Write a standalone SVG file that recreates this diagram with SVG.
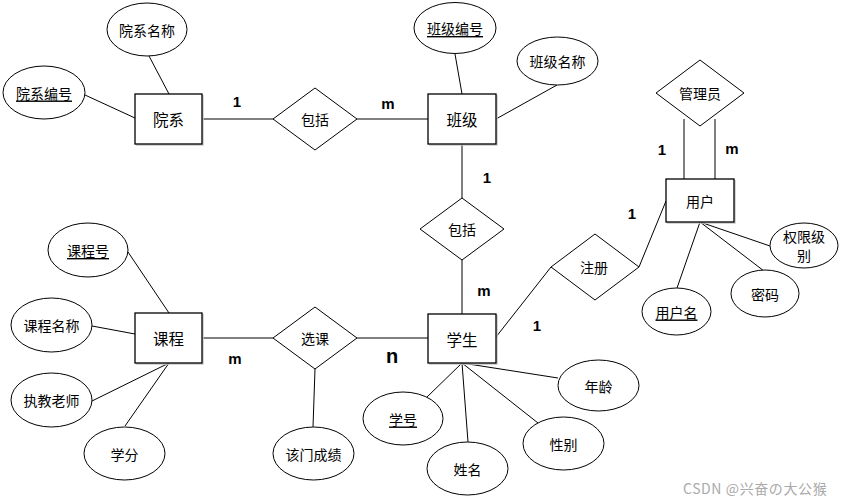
<svg xmlns="http://www.w3.org/2000/svg" width="845" height="504" viewBox="0 0 845 504">
<style>
.ent{fill:#fff;stroke:#000;stroke-width:1.3}
.sh{fill:none;stroke:#c8c8c8;stroke-width:1.5}
.rel{fill:#fff;stroke:#000;stroke-width:1}
.att{fill:#fff;stroke:#000;stroke-width:1}
.ln{stroke:#000;stroke-width:1;fill:none}
text{font-family:"Noto Sans CJK SC","Liberation Sans",sans-serif;font-size:14px;fill:#000;text-anchor:middle;dominant-baseline:central}
.big{font-size:15.5px}
.u{text-decoration:underline}
.card{font-family:"Liberation Sans",Arial,sans-serif;font-weight:bold;font-size:15px}
.n{font-size:20px}
.wm{font-size:14px;fill:#aaa;text-anchor:start;letter-spacing:0.6px}
</style>
<rect width="845" height="504" fill="#fff"/>
<g id="connectors">
<line class="ln" x1="149" y1="56" x2="169" y2="94"/>
<line class="ln" x1="85" y1="95" x2="135" y2="118"/>
<line class="ln" x1="202" y1="119" x2="273" y2="119"/>
<line class="ln" x1="357" y1="119" x2="428" y2="119"/>
<line class="ln" x1="455" y1="54" x2="462" y2="94"/>
<line class="ln" x1="557" y1="85" x2="496" y2="119"/>
<line class="ln" x1="462" y1="144" x2="462" y2="198"/>
<line class="ln" x1="462" y1="260" x2="462" y2="314"/>
<line class="ln" x1="202" y1="338" x2="273" y2="338"/>
<line class="ln" x1="357" y1="338" x2="428" y2="338"/>
<line class="ln" x1="315" y1="369" x2="313" y2="427"/>
<line class="ln" x1="128" y1="252" x2="169" y2="313"/>
<line class="ln" x1="92" y1="326" x2="135" y2="334"/>
<line class="ln" x1="92" y1="401" x2="169" y2="363"/>
<line class="ln" x1="125" y1="426" x2="169" y2="363"/>
<line class="ln" x1="427" y1="397" x2="462" y2="363"/>
<line class="ln" x1="468" y1="442" x2="462" y2="363"/>
<line class="ln" x1="538" y1="423" x2="462" y2="363"/>
<line class="ln" x1="558" y1="378" x2="462" y2="363"/>
<line class="ln" x1="496" y1="337" x2="551" y2="267"/>
<line class="ln" x1="639" y1="267" x2="666" y2="201"/>
<line class="ln" x1="684" y1="119" x2="684" y2="179"/>
<line class="ln" x1="715" y1="119" x2="715" y2="179"/>
<line class="ln" x1="700" y1="222" x2="770" y2="246"/>
<line class="ln" x1="700" y1="222" x2="764" y2="271"/>
<line class="ln" x1="700" y1="222" x2="677" y2="288"/>
</g>
<g id="labels">
<text class="card" x="237" y="101">1</text>
<text class="card" x="388" y="103">m</text>
<text class="card" x="487" y="177">1</text>
<text class="card" x="484" y="290">m</text>
<text class="card" x="235" y="358">m</text>
<text class="card n" x="392" y="356">n</text>
<text class="card" x="537" y="325">1</text>
<text class="card" x="632" y="213">1</text>
<text class="card" x="662" y="149">1</text>
<text class="card" x="732" y="148">m</text>
</g>
<g id="yuanxi"><polyline class="sh" points="203,95 203,145 136,145"/><rect class="ent" x="135" y="94" width="67" height="50"/><text class="big" x="168.5" y="119">院系</text></g>
<g id="banji"><polyline class="sh" points="497,95 497,145 429,145"/><rect class="ent" x="428" y="94" width="68" height="50"/><text class="big" x="462" y="119">班级</text></g>
<g id="kecheng"><polyline class="sh" points="203,314 203,364 136,364"/><rect class="ent" x="135" y="313" width="67" height="50"/><text class="big" x="168.5" y="338">课程</text></g>
<g id="xuesheng"><polyline class="sh" points="497,315 497,364 429,364"/><rect class="ent" x="428" y="314" width="68" height="49"/><text class="big" x="462" y="338.5">学生</text></g>
<g id="yonghu"><polyline class="sh" points="735,180 735,223 667,223"/><rect class="ent" x="666" y="179" width="68" height="43"/><text x="700" y="200.5">用户</text></g>
<g id="baokuo1"><polygon class="rel" points="273,119 315,88 357,119 315,150"/><text x="315" y="119">包括</text></g>
<g id="baokuo2"><polygon class="rel" points="420,229 462,198 504,229 462,260"/><text x="462" y="229">包括</text></g>
<g id="xuanke"><polygon class="rel" points="273,338 315,307 357,338 315,369"/><text x="315" y="338">选课</text></g>
<g id="zhuce"><polygon class="rel" points="551,267 595,234 639,267 595,300"/><text x="594" y="267">注册</text></g>
<g id="guanliyuan"><polygon class="rel" points="656,93 700,60 744,93 700,126"/><text x="700" y="93">管理员</text></g>
<g id="yxmc"><ellipse class="att" cx="147" cy="29.5" rx="40" ry="26.5"/><text x="147" y="29.5">院系名称</text></g>
<g id="yxbh"><ellipse class="att" cx="44" cy="92.5" rx="41" ry="26.5"/><text class="u" x="44" y="92.5">院系编号</text></g>
<g id="bjbh"><ellipse class="att" cx="455" cy="28" rx="41" ry="25.5"/><text class="u" x="455" y="28">班级编号</text></g>
<g id="bjmc"><ellipse class="att" cx="557.5" cy="61" rx="40.5" ry="24"/><text x="557.5" y="61">班级名称</text></g>
<g id="kch"><ellipse class="att" cx="88" cy="250" rx="40" ry="27"/><text class="u" x="88" y="250">课程号</text></g>
<g id="kcmc"><ellipse class="att" cx="51.5" cy="325" rx="40.5" ry="27"/><text x="51.5" y="325">课程名称</text></g>
<g id="zjls"><ellipse class="att" cx="51.5" cy="400" rx="40.5" ry="27"/><text x="51.5" y="400">执教老师</text></g>
<g id="xf"><ellipse class="att" cx="124.5" cy="453.5" rx="40.5" ry="26.5"/><text x="124.5" y="453.5">学分</text></g>
<g id="gmcj"><ellipse class="att" cx="313.5" cy="453.5" rx="40.5" ry="26.5"/><text x="313.5" y="453.5">该门成绩</text></g>
<g id="xh"><ellipse class="att" cx="403" cy="418.5" rx="40" ry="26.5"/><text class="u" x="403" y="418.5">学号</text></g>
<g id="xm"><ellipse class="att" cx="467.5" cy="468.5" rx="40.5" ry="26.5"/><text x="467.5" y="468.5">姓名</text></g>
<g id="xb"><ellipse class="att" cx="563.5" cy="443.5" rx="40.5" ry="26.5"/><text x="563.5" y="443.5">性别</text></g>
<g id="nl"><ellipse class="att" cx="598.5" cy="385.5" rx="40.5" ry="25.5"/><text x="598.5" y="385.5">年龄</text></g>
<g id="qxjb"><ellipse class="att" cx="804" cy="245.5" rx="34" ry="22.5"/><text x="804" y="236">权限级</text><text x="804" y="255">别</text></g>
<g id="mm"><ellipse class="att" cx="765" cy="293.5" rx="34" ry="23.5"/><text x="765" y="293.5">密码</text></g>
<g id="yhm"><ellipse class="att" cx="676.5" cy="311.5" rx="34.5" ry="23.5"/><text class="u" x="676.5" y="311.5">用户名</text></g>
<text class="wm" x="683" y="488">CSDN @兴奋の大公猴</text>
</svg>
